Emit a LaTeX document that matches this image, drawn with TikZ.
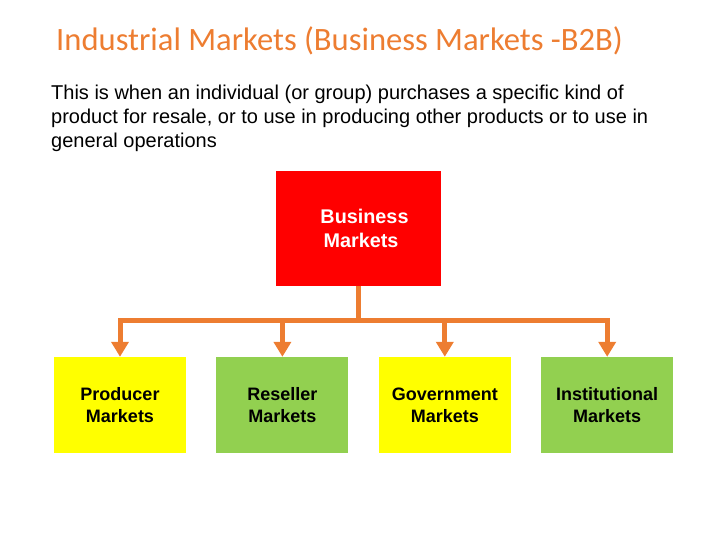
\documentclass[tikz,border=0pt]{standalone}
\usepackage{fontspec}
\setmainfont{Liberation Sans}
\newfontfamily\titlefont{Carlito}
\usetikzlibrary{arrows.meta, positioning}
\definecolor{linkorange}{HTML}{ED7D31}
\definecolor{boxred}{HTML}{FF0000}
\definecolor{boxyellow}{HTML}{FFFF00}
\definecolor{boxgreen}{HTML}{92D050}

\begin{document}
\begin{tikzpicture}[x=1pt, y=-1pt,
  node distance=30pt,
  market/.style={minimum width=132pt, minimum height=96pt, inner sep=0pt,
    align=center, font=\fontsize{18}{22}\selectfont\bfseries},
  link/.style={linkorange, line width=5pt},
  every node/.style={font=\small}]
  \useasboundingbox (0,0) rectangle (720,540);
  \node (title) [anchor=base west, text=linkorange, inner sep=0pt,
    font=\titlefont\fontsize{32.6}{38}\selectfont] at (56,51)
    {Industrial Markets (Business Markets -B2B)};
  \node (intro) [anchor=north west, inner sep=0pt, align=left,
    font=\fontsize{20}{24}\selectfont] at (51,85)
    {This is when an individual (or group) purchases a specific kind of\\
     product for resale, or to use in producing other products or to use in\\
     general operations};
  \node (biz) [market, fill=boxred, text=white, minimum width=165pt,
    minimum height=115pt, font=\fontsize{19.8}{24}\selectfont\bfseries]
    at (358.5,228.5) {\hspace*{12pt}Business\\\hspace*{5pt}Markets};
  \node (prod) [market, fill=boxyellow] at (120,405) {Producer\\Markets};
  \node (resl) [market, fill=boxgreen, right=of prod] {Reseller\\Markets};
  \node (govt) [market, fill=boxyellow, right=of resl] {Government\\Markets};
  \node (inst) [market, fill=boxgreen, right=of govt] {Institutional\\Markets};
  \coordinate (hub) at (biz.south |- 0,320);
  \draw[link] (biz.south) -- (hub);
  \draw[link, line cap=rect] (prod.north |- hub) -- (inst.north |- hub);
  \foreach \m in {prod, resl, govt, inst}
    \draw[link, -{Triangle[width=17pt, length=15pt]}] (\m.north |- hub) -- (\m.north);
\end{tikzpicture}
\end{document}
